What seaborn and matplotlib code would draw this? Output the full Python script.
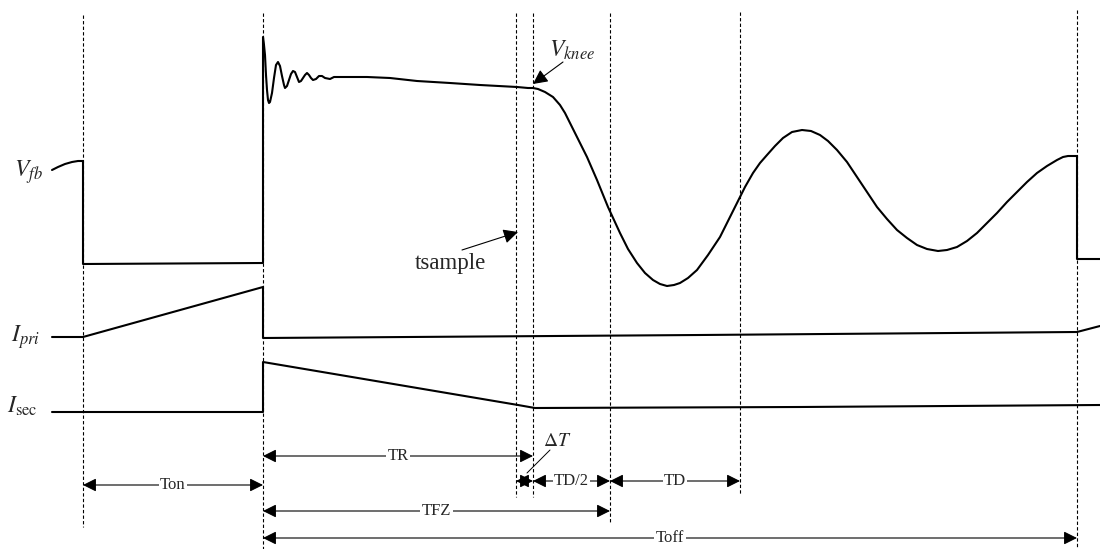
import matplotlib
matplotlib.use("Agg")
import matplotlib.pyplot as plt
import seaborn as sns
import pandas as pd

# ---------------- data (time axis / level axis in diagram units) ----------------
vfb_t = [52, 58, 65, 72, 78, 83, 83, 263,
         263, 264, 265, 266, 267, 268, 269, 270, 272, 274, 276, 278, 280, 282, 284, 285,
         287, 289, 291, 293, 295, 297, 299, 301, 303, 305, 307, 309, 311, 313, 316, 319,
         322, 325, 330, 334, 338, 350, 367, 390, 417, 450, 480, 517, 528, 533,
         538, 545, 553, 560, 565, 570, 578, 587, 597, 608, 620, 628, 637, 645, 653, 660, 667,
         674, 680, 688, 697, 708, 720, 730, 738, 745, 753, 760, 767, 775, 783, 792, 802,
         811, 820, 828, 837, 847, 857, 867, 877, 887, 897, 907, 917, 927, 938, 947, 957,
         967, 977, 987, 997, 1007, 1017, 1027, 1037, 1047, 1057, 1063, 1068, 1077, 1077, 1100]
vfb_v = [170, 167, 164, 162, 161, 161, 264, 263,
         37, 45, 55, 75, 90, 100, 103, 102, 93, 78, 65, 62, 66, 76, 85, 88,
         86, 80, 74, 71, 72, 77, 82, 81, 78, 75, 73, 75, 78, 80, 79, 76,
         76, 78, 79, 77, 77, 77, 77, 78, 81, 83, 85, 87, 88, 88,
         89, 92, 97, 105, 113, 123, 139, 157, 180, 207, 233, 249, 263, 273, 280, 284, 286,
         285, 283, 278, 270, 255, 237, 217, 201, 187, 173, 163, 155, 146, 138, 132, 130,
         131, 135, 141, 150, 162, 177, 192, 207, 219, 230, 238, 245, 249, 251, 250, 247,
         241, 233, 223, 213, 202, 192, 182, 173, 166, 160, 157, 156, 156, 259, 259]

ipri_t = [52, 83, 263, 263, 700, 1077, 1100]
ipri_v = [337, 337, 287, 338, 335, 332, 326]

isec_t = [52, 263, 263, 518, 535, 800, 1100]
isec_v = [412, 412, 362, 405, 408, 407, 405]

# vertical dashed time markers
mark_t = [83, 263, 516, 533, 610, 740, 1077]
mark_top = [15, 13, 13, 13, 13, 12, 10]
mark_bot = [527, 549, 497, 497, 522, 494, 549]

# dimension arrows: label, start, end, level
dim_labels = ["Ton", "TR", "", "TD/2", "TD", "TFZ", "Toff"]
dim_start = [83, 263, 516, 533, 610, 263, 263]
dim_end = [263, 533, 533, 610, 740, 610, 1077]
dim_level = [485, 456, 481, 481, 481, 511, 538]

# ---------------- figure ----------------
sns.set_theme(style="white")
plt.rcParams["font.family"] = ["Liberation Serif", "DejaVu Serif"]
plt.rcParams["mathtext.fontset"] = "stix"

fig = plt.figure(figsize=(11, 5.49), dpi=100)
ax = fig.add_axes([0, 0, 1, 1])
ax.set_xlim(0, 1100)
ax.set_ylim(549, 0)
ax.axis("off")

# dashed markers
ax.vlines(mark_t, mark_top, mark_bot, colors="black", linestyles=(0, (3, 2)), linewidth=0.8)

# waveforms
for t, v in [(vfb_t, vfb_v), (ipri_t, ipri_v), (isec_t, isec_v)]:
    df = pd.DataFrame({"t": t, "v": v})
    sns.lineplot(data=df, x="t", y="v", ax=ax, color="black", linewidth=1.5,
                 sort=False, estimator=None)
ax.set_xlim(0, 1100)
ax.set_ylim(549, 0)
ax.set_xlabel("")
ax.set_ylabel("")

# dimension arrows
for lab, a, b, lv in zip(dim_labels, dim_start, dim_end, dim_level):
    ax.annotate("", xy=(b, lv), xytext=(a, lv),
                arrowprops=dict(arrowstyle="<|-|>", color="black", lw=0.8,
                                mutation_scale=20, shrinkA=0, shrinkB=0))
    if lab:
        ax.text((a + b) / 2, lv, lab, ha="center", va="center", fontsize=12,
                bbox=dict(facecolor="white", edgecolor="none", pad=1.0))

# signal labels
ax.text(28, 172, r"$V_{fb}$", fontsize=17, ha="center", va="center")
ax.text(26, 337, r"$I_{pri}$", fontsize=17, ha="center", va="center")
ax.text(22, 406, r"$I_{\mathrm{sec}}$", fontsize=17, ha="center", va="center")

# V_knee
ax.annotate("", xy=(533, 84), xytext=(563, 62),
            arrowprops=dict(arrowstyle="-|>", color="black", lw=0.8,
                            mutation_scale=22, shrinkA=0, shrinkB=0))
ax.text(549, 50, r"$V_{knee}$", fontsize=17, ha="left", va="center")

# tsample
ax.annotate("", xy=(518, 232), xytext=(462, 250),
            arrowprops=dict(arrowstyle="-|>", color="black", lw=0.8,
                            mutation_scale=22, shrinkA=0, shrinkB=0))
ax.text(450, 264, "tsample", fontsize=16.5, ha="center", va="center")

# Delta T
ax.plot([550, 527], [450, 473], color="black", lw=0.7)
ax.text(557, 441, r"$\Delta T$", fontsize=14, ha="center", va="center")

fig.savefig("out.png", dpi=100)
